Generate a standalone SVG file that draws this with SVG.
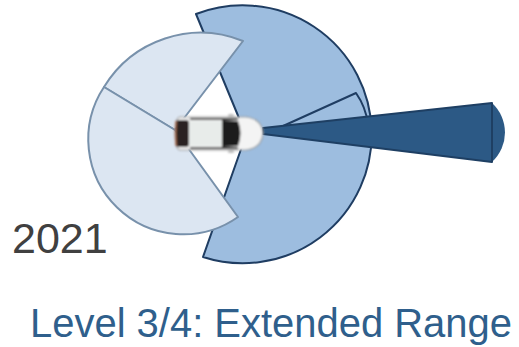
<svg xmlns="http://www.w3.org/2000/svg" width="519" height="347" viewBox="0 0 519 347">
  <style>
    .mid { fill: #9DBDDF; stroke: #1F3D62; stroke-width: 2; stroke-linejoin: round; }
    .near { fill: #DCE6F2; stroke: #7891AB; stroke-width: 2; stroke-linejoin: round; }
    .beam { fill: #2C5985; stroke: #1E3F63; stroke-width: 2; stroke-linejoin: round; }
    .year { font-family: "Liberation Sans", Arial, sans-serif; font-size: 43px; fill: #404040; }
    .title { font-family: "Liberation Sans", Arial, sans-serif; font-size: 40px; fill: #2F5F8C; }
  </style>
  <defs>
    <filter id="soft" x="-10%" y="-20%" width="120%" height="140%">
      <feGaussianBlur stdDeviation="0.8"/>
    </filter>
  </defs>

  <rect width="519" height="347" fill="#FFFFFF"/>

  <!-- wide mid-range coverage -->
  <g id="mid-range">
    <path class="mid" d="M246,135 L196,14 A129,129 0 1 1 203,257 Z"/>
    <path class="mid" d="M272,131 L356,93 A70,70 0 0 1 368,124 Z"/>
  </g>

  <!-- short-range rear/side coverage -->
  <g id="rear-upper">
    <path class="near" d="M175,130 L104,87 A113,113 0 0 1 243,41 Z"/>
  </g>
  <g id="rear-lower">
    <path class="near" d="M175,130 L104,87 A95,95 0 0 0 238,217 Z"/>
  </g>

  <!-- long-range forward beam -->
  <g id="long-range">
    <path d="M492,103 A40,40 0 0 1 492,162 Z" fill="#2C5985"/>
    <path class="beam" d="M263,128 L492,103 L492,162 L263,134 Z"/>
  </g>

  <!-- vehicle, top view, facing right -->
  <g id="vehicle" filter="url(#soft)">
    <path d="M180,117 L246,117 Q262,119 263,133 Q262,148 246,150 L180,150 Q175,149 175,133 Q175,118 180,117 Z" fill="#F4F4F4" stroke="#9A9A9A" stroke-width="1.2"/>
    <rect x="176" y="120" width="13" height="27" rx="3" fill="#2A2420"/>
    <rect x="189" y="121" width="33" height="25" fill="#E8ECEA"/>
    <path d="M222,120 L238,121 Q243,133 238,146 L222,147 Z" fill="#1E1E1E"/>
    <path d="M190,119 L238,119" stroke="#3A3A3A" stroke-width="2"/>
    <path d="M190,148 L238,148" stroke="#3A3A3A" stroke-width="2"/>
    <rect x="228" y="114" width="6" height="4" rx="1.5" fill="#BDBDBD"/>
    <rect x="228" y="149" width="6" height="4" rx="1.5" fill="#BDBDBD"/>
    <path d="M176,121 Q175,133 176,146" stroke="#B07050" stroke-width="1.5" fill="none"/>
  </g>

  <!-- labels -->
  <g id="labels">
    <text class="year" x="12" y="253">2021</text>
    <text class="title" x="30" y="337" textLength="482" lengthAdjust="spacingAndGlyphs">Level 3/4: Extended Range</text>
  </g>
</svg>
